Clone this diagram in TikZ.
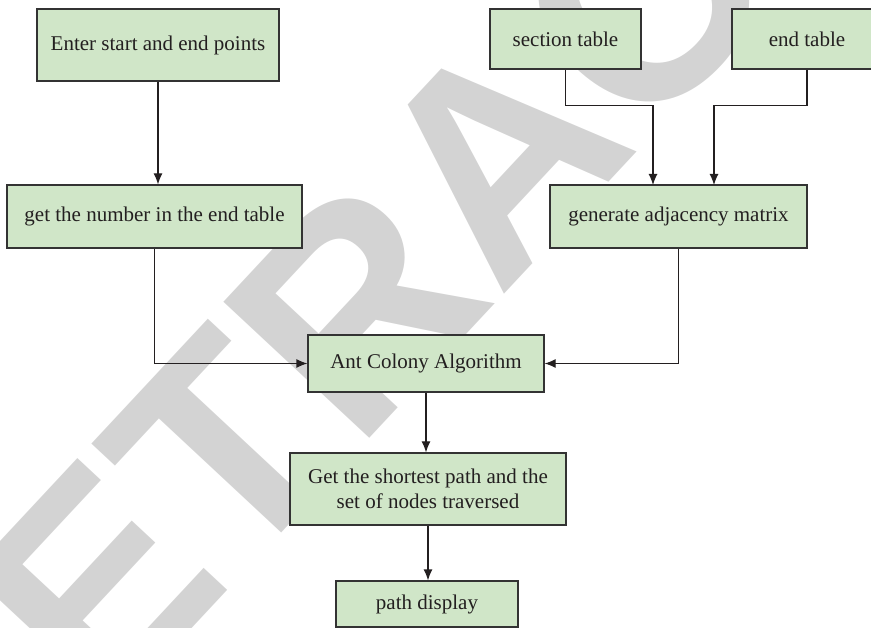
\documentclass[tikz,border=0pt]{standalone}
\usepackage{fontspec}
\setmainfont{Liberation Serif}
\setsansfont{Liberation Sans}
\usetikzlibrary{%
  arrows.meta,% tips
  calc%
}
\definecolor{boxgreen}{HTML}{D0E6C8}
\definecolor{boxline}{HTML}{333333}
\definecolor{inkgray}{HTML}{231F20}
\definecolor{stampgray}{HTML}{D3D3D3}

\begin{document}
\begin{tikzpicture}[
  x=1pt, y=-1pt,
  font=\fontsize{21}{25}\selectfont,
  >={Latex[length=11pt,width=9pt]},
  line width=1.2pt,
  box/.style={draw=boxline, fill=boxgreen, text=inkgray, inner sep=0pt, align=center},
  arr/.style={->, draw=inkgray},
]
\useasboundingbox (0,0) rectangle (871,628);

% watermark behind everything
\node[rotate=47, text=stampgray, inner sep=0pt,
  font=\fontsize{290}{290}\selectfont\sffamily\bfseries] (stamp) at (498,155) {RETRACTED};

\node[box, minimum width=242pt, minimum height=72pt] (enter) at (158,45) {Enter start and end points};
\node[box, minimum width=151pt, minimum height=60pt] (sect) at (565.5,39) {section table};
\node[box, minimum width=150pt, minimum height=60pt] (endt) at (807,39) {end table};
\node[box, minimum width=295pt, minimum height=63pt] (numb) at (154.5,216.5) {get the number in the end table};
\node[box, minimum width=257pt, minimum height=63pt] (adj) at (678.5,216.5) {generate adjacency matrix};
\node[box, minimum width=236pt, minimum height=57pt] (aco) at (426,363.5) {Ant Colony Algorithm};
\node[box, minimum width=276pt, minimum height=72pt] (short) at (428,489) {Get the shortest path and the\\set of nodes traversed};
\node[box, minimum width=182pt, minimum height=46pt] (disp) at (427,604) {path display};

\coordinate (adjin1) at (653,185);
\coordinate (adjin2) at (714,185);

\draw[arr] (enter.south) -- (enter.south |- numb.north);
\draw[arr] (sect.south) -- ++(0,36) -| (adjin1);
\draw[arr] (endt.south) -- ++(0,36) -| (adjin2);
\draw[arr] (numb.south) |- (aco.west);
\draw[arr] (adj.south) |- (aco.east);
\draw[arr] (aco.south) -- (aco.south |- short.north);
\draw[arr] (short.south) -- (short.south |- disp.north);

\end{tikzpicture}
\end{document}
